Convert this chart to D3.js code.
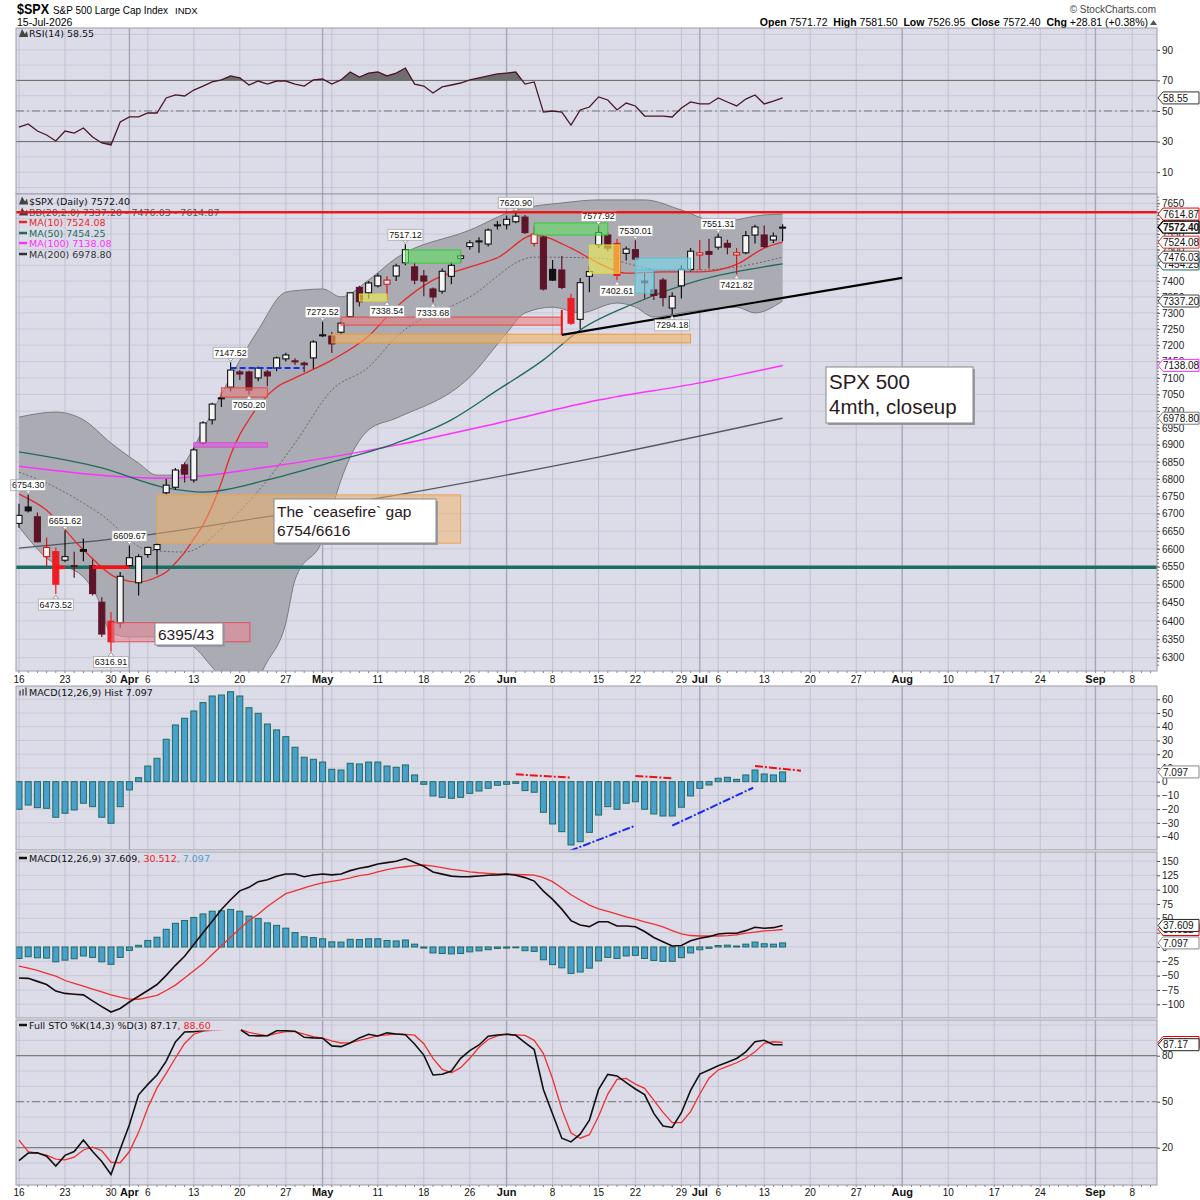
<!DOCTYPE html>
<html>
<head>
<meta charset="utf-8">
<script src="https://cdn.jsdelivr.net/npm/d3@7"></script>
<style>
  body { margin: 0; background: #fff; }
  svg { display: block; }
</style>
</head>
<body>
<svg id="chart" width="1200" height="1200"></svg>
<script>
// ---------- data ----------
const holidays = ["2026-04-03", "2026-05-25", "2026-06-19", "2026-07-03", "2026-09-07"];

const opens = [6672,6719,6691,6578,6592,6568,6553,6598,6553,6451,
  6399,6394,6553,6505,6584,6598,6760,6776,6841,6797,
  6905,6974,7038,7072,7118,7118,7100,7118,7130,7158,
  7152,7145,7161,7230,7228,7240,7288,7380,7363,7385,
  7390,7416,7458,7445,7416,7375,7368,7415,7472,7510,
  7528,7518,7578,7580,7590,7605,7520,7540,7437,7435,
  7345,7280,7415,7515,7547,7520,7488,7500,7400,7372,
  7403,7315,7385,7437,7483,7494,7508,7520,7483,7490,
  7547,7547,7531,7571.72];
const highs = [6728,6754.30,6703,6632,6604,6651.62,6592,6629,6570,6465,
  6424,6535,6609.67,6585,6606,6616,6800,6832,6848,6893,
  6970,7025,7056,7147.52,7124,7122,7135,7124,7165,7177,
  7160,7150,7215,7272.52,7241,7272,7365,7385,7400,7425,
  7415,7455,7517.12,7460,7435,7380,7440,7460,7485,7530,
  7540,7568,7592,7610,7620.90,7612,7575,7545,7467,7480,
  7360,7410,7448,7577.92,7555,7535,7510,7530.01,7425,7430,
  7410,7365,7450,7505,7531,7535,7551.31,7532,7505,7560,
  7580,7578,7555,7581.50];
const lows = [6660,6703,6618,6550,6473.52,6562,6519,6565,6470,6356,
  6316.91,6380,6548,6470,6575,6528,6754,6768,6790,6790,
  6900,6960,7012,7060,7094,7050.20,7090,7075,7120,7150,
  7140,7118,7128,7225,7176,7232,7285,7320,7345,7380,
  7338.54,7400,7450,7390,7352,7333.68,7360,7390,7460,7500,
  7490,7510,7565,7565,7585,7550,7510,7370,7400,7375,
  7262,7250,7365,7505,7495,7402.61,7465,7465,7345,7340,
  7320,7294.18,7345,7430,7435,7440,7500,7485,7421.82,7485,
  7520,7505,7521,7526.95];
const closes = [6695,6708,6620,6604,6501,6578,6550,6593,6475,6364,
  6343,6523,6575,6578,6604,6612,6782,6826,6814,6885,
  6965,7021,7040,7124,7112,7063,7130,7106,7161,7170,
  7150,7140,7210,7232,7204,7268,7363,7335,7394,7416,
  7403,7448,7500,7403,7400,7350,7431,7450,7480,7522,
  7525,7563,7580,7598,7608,7555,7550,7375,7403,7380,
  7268,7395,7430,7555,7505,7418,7502,7470,7395,7355,
  7348,7352,7437,7495,7490,7485,7540,7508,7490,7545,
  7573,7510,7543.59,7572.40];
// candles the author painted bright red
const redCandles = [4, 10, 60, 65];

// overlays as [bar index, value] knots
const ma10 = [[0,6756],[3,6710],[7,6597],[11,6515],[13,6507],[15,6521],[16,6535],[17,6560],[18,6590],[19,6628],
  [20,6668],[21,6722],[22,6790],[23,6870],[24,6930],[25,6975],[26,7015],[28,7072],[30,7100],[34,7154],[38,7228],
  [41,7318],[45,7403],[49,7445],[52,7474],[56,7547],[60,7505],[63,7457],[66,7425],[70,7429],[74,7429],[78,7453],
  [81,7505],[83,7524.08]];
const bbMid = [[0,6820],[3,6788],[9,6696],[14,6597],[18,6591],[23,6682],[27,6797],[30,6905],[34,7063],[38,7133],
  [41,7225],[49,7350],[56,7476],[63,7473],[70,7435],[74,7435],[78,7445],[83,7476.03]];
const bbUp = [[0,6982],[4,6997],[7,6974],[10,6905],[13,6846],[15,6811],[17,6811],[18,6846],[20,6944],[23,7103],
  [26,7247],[29,7365],[31,7372],[33,7375],[35,7350],[38,7403],[41,7473],[49,7563],[54,7628],[59,7651],[63,7661],
  [68,7661],[72,7628],[76,7589],[81,7612],[83,7614.87]];
const bbLow = [[0,6662],[3,6574],[7,6521],[8.5,6465],[10,6367],[12,6356],[16,6356],[19,6329],[21,6275],[23,6225],
  [25,6220],[27,6290],[29,6394],[30,6513],[33,6625],[35,6797],[36,6864],[38,6944],[41,6979],[49,7103],[53,7237],
  [55,7300],[58,7318],[61,7300],[65,7331],[67,7318],[69,7287],[72,7300],[78,7318],[80,7300],[83,7337.20]];
const ma50 = [[0,6879],[9,6832],[16,6774],[20,6762],[27,6797],[34,6849],[41,6905],[47,6974],[52,7063],[57,7155],
  [61,7247],[67,7331],[74,7403],[83,7454.25]];
const ma100 = [[0,6837],[16,6802],[27,6835],[41,6899],[52,6964],[63,7033],[74,7085],[83,7138.08]];
const ma200 = [[0,6602],[12,6633],[28,6696],[41,6753],[63,6864],[83,6978.80]];

const rsi = [39.5,41.5,36.9,34.3,30.4,36.9,35.6,38.9,33.0,29.1,
  27.8,42.8,46.1,46.1,48.7,48.7,58.5,60.5,59.8,63.7,
  66.3,69.0,70.3,72.9,71.6,67.0,69.6,67.6,69.6,69.6,
  67.6,66.3,70.3,70.9,67.6,70.3,75.5,72.2,74.8,75.5,
  72.9,74.8,78.1,67.6,66.3,61.8,65.7,67.0,68.3,70.3,
  71.6,72.9,74.2,74.8,75.5,67.6,69.0,49.3,50.0,49.3,
  40.8,50.7,52.6,59.2,57.2,50.7,55.2,53.3,46.7,46.7,
  46.7,46.1,52.0,55.9,54.6,54.6,58.5,55.9,53.3,57.8,
  60.5,54.6,56.5,58.55];
const hist = [-20.1,-17.0,-18.9,-19.4,-25.9,-23.0,-20.6,-15.7,-18.2,-25.9,
  -30.3,-18.2,-6.0,2.9,11.4,17.0,30.9,41.3,46.2,51.5,
  57.6,62.4,63.1,65.5,62.4,53.9,49.8,42.0,37.7,32.8,
  25.1,17.8,16.3,14.3,9.0,8.5,13.4,12.9,14.3,14.3,
  11.4,10.5,12.2,4.9,-1.9,-10.4,-11.4,-12.1,-11.4,-8.5,
  -6.8,-4.8,-2.6,-1.9,-1.2,-6.5,-7.7,-22.3,-30.8,-36.4,
  -46.1,-43.7,-36.9,-24.3,-18.2,-20.1,-15.7,-14.6,-20.1,-23.5,
  -25.0,-25.0,-18.6,-10.4,-4.8,-2.4,2.5,3.2,1.7,4.9,
  8.5,5.6,4.9,7.097];
const macd = [-54,-54.7,-60,-65.5,-77,-81,-82.4,-83.6,-94,-104,
  -113.5,-107.3,-96,-86,-76,-65.5,-49.5,-32,-16.3,4.2,
  25,45,65.3,82.4,97.9,104.1,114,117.2,123.5,127.3,
  127.2,122.6,125.6,127.3,125.8,127.3,133.2,137.4,140.2,144.7,
  147.1,149.5,154.2,147.5,140.7,130.9,127.1,123.6,122.6,122.7,
  123.9,125.1,125.8,127.1,125,121,115,97.5,83,66,
  46,38.2,35.5,44,44,36.6,36.6,35.3,27,16.5,
  9.2,1.7,2.5,10.7,15.2,18,22.7,23.9,23.9,28.5,
  34.3,32.6,33.7,37.609];
const signal = [-33.5,-37,-41,-46,-51,-58.5,-63.5,-68.5,-73.5,-78.5,
  -83.5,-87.5,-91,-91.2,-88,-84.5,-76,-66.5,-54,-41.5,
  -29,-13,2,17,32,46,57,70.5,82,93,
  98,103,108,112,114.5,117,120.5,124.5,126.5,131,
  135,138,140,142,143,141,138.5,135.5,133.5,131,
  129.5,128.5,127.5,127,126.5,126,125.5,121,114,103,
  91,82,73,66.5,62,57.5,52.5,48.5,44,40,
  35,28.5,23,20,19.2,19.2,19.2,19.8,21,24,
  26,28,29,30.512];
const stoK = [11.5,16.5,16.7,14.5,8,15,17.5,25,17.5,11,
  2.5,19,35,54.5,61.3,67.4,76.5,89,95.5,95.7,
  96.5,97.5,98,98.5,97.2,93.2,92.9,93,96.3,96.3,
  96,92,91.6,91.4,86.4,85.9,88.3,91.6,94,92.9,
  94.9,94.2,93.7,87.6,80.4,67.4,67.9,70,78.3,83.3,
  87,92.7,93.5,94,93.3,88.5,84,58,42,26.2,
  23.8,28.8,38,58,67.8,66.8,62.4,58.3,54.6,42.4,
  34.2,33.2,42.8,57.4,68,70.7,73.5,75.7,78.2,82.5,
  89.1,90.1,87.1,87.17];
const stoD = [25,17.5,16.5,15.2,12.6,12.1,13.8,18.5,20.3,18,
  10.5,10.2,17.5,30,46,59,68.5,78.5,88,94,
  96,96.5,97,97.5,97.2,95.2,94,93,94.5,95.7,
  95.7,94,92.5,91.4,89.7,88.3,88.5,90,91.5,92.9,
  93.6,94.2,93.9,93.4,87.8,78.3,71.1,68.9,72.2,78.3,
  85.5,90.6,92.9,94,93.6,93.2,90,81.4,65,45,
  29.6,26.2,28.5,40.5,55,64.6,65.2,61.5,58.7,51,
  43,36.3,36.3,43.5,55,65.3,70.7,73,75.4,78.3,
  82.6,88.1,89.1,88.6];

// high / low callouts: [bar, value, 1 = above]
const hiLo = [[1,6754.30,1],[5,6651.62,1],[4,6473.52,0],[12,6609.67,1],[10,6316.91,0],
  [23,7147.52,1],[25,7050.20,0],[33,7272.52,1],[40,7338.54,0],[45,7333.68,0],
  [42,7517.12,1],[54,7620.90,1],[63,7577.92,1],[67,7530.01,1],[65,7402.61,0],
  [71,7294.18,0],[76,7551.31,1],[78,7421.82,0]];

// drawn zones: [kind, from bar, to bar, top value, bottom value]
const zones = [["gap",15,48,6754,6616],["pink",10.1,25.1,6395,6343],["red",22,27,7070,7042],
  ["yellow",37,40,7359,7337],["red",35,59,7287,7262],["orange",34,73,7234,7207],
  ["green",42,48,7499,7457],["green",56,64,7586,7547],["yellow",62,65.3,7515,7425],
  ["cyan",67,73,7473,7435],["cyan",67,69,7435,7362],["magenta",19,27,6906,6893]];
const levels = [["teal",6548],["red",7621]];
const segments = [["redThick",4,6548,5,6548],["redThick",8,6548,12,6548],["blueDash",23,7130,31,7130],
  ["red",59,7309,59,7232],["black",59,7232,96,7410]];
const histMarks = [["red",54,5.4,60,2.9],["red",67,4.2,71,2.5],["red",80,11.4,85,8.0],
  ["blue",59.9,-50.3,67,-32],["blue",71,-32,79.8,-4.4]];

const xTicks = [["2026-03-16","16"],["2026-03-23","23"],["2026-03-30","30"],["2026-04-01","Apr",1],
  ["2026-04-06","6"],["2026-04-13","13"],["2026-04-20","20"],["2026-04-27","27"],["2026-05-01","May",1],
  ["2026-05-11","11"],["2026-05-18","18"],["2026-05-26","26"],["2026-06-01","Jun",1],["2026-06-08","8"],
  ["2026-06-15","15"],["2026-06-22","22"],["2026-06-29","29"],["2026-07-01","Jul",1],["2026-07-06","6"],
  ["2026-07-13","13"],["2026-07-20","20"],["2026-07-27","27"],["2026-08-03","Aug",1],["2026-08-10","10"],
  ["2026-08-17","17"],["2026-08-24","24"],["2026-09-01","Sep",1],["2026-09-08","8"]];

// ---------- setup ----------
const svg = d3.select("#chart");
const L = 16, R = 1157;
const BG = "#dcdce8", GRID = "#c8c8d8", VGRID = "#c0c0d0", MGRID = "#a8a8bc";
const LEG = "'DejaVu Sans', Verdana, sans-serif";
const AX = "'Liberation Sans', Arial, sans-serif";

const days = [];
for (let d = new Date(Date.UTC(2026, 2, 16)); d <= new Date(Date.UTC(2026, 8, 14)); d.setUTCDate(d.getUTCDate() + 1)) {
  const iso = d.toISOString().slice(0, 10);
  const wd = d.getUTCDay();
  if (wd === 0 || wd === 6 || holidays.includes(iso)) continue;
  days.push(iso);
}
const x = d3.scaleLinear().domain([0, 83]).range([19, 782.6]);

const vGrid = [];
days.forEach((iso, k) => {
  const dt = new Date(iso + "T00:00:00Z");
  const prev = k ? new Date(days[k - 1] + "T00:00:00Z") : null;
  const month = !!prev && dt.getUTCMonth() !== prev.getUTCMonth();
  const week = !prev || dt.getUTCDay() < prev.getUTCDay();
  if ((month || week) && x(k) < R) vGrid.push({ k, month });
});

const yR = d3.scaleLinear().domain([10, 90]).range([172.2, 49.8]);
const yP = d3.scaleLog().domain([6300, 7650]).range([657.7, 203.3]);
const yH = d3.scaleLinear().domain([-40, 60]).range([836.6, 699.3]);
const yM = d3.scaleLinear().domain([-100, 150]).range([1004.3, 861.0]);
const yS = d3.scaleLinear().domain([20, 80]).range([1147.7, 1055.7]);

const defs = svg.append("defs");
svg.append("rect").attr("width", 1200).attr("height", 1200).attr("fill", "#fff");

function makePanel(id, top, bottom, y, gridVals) {
  defs.append("clipPath").attr("id", id).append("rect")
    .attr("x", L).attr("y", top).attr("width", R - L).attr("height", bottom - top);
  svg.append("rect").attr("x", L).attr("y", top).attr("width", R - L).attr("height", bottom - top).attr("fill", BG);
  const g = svg.append("g").attr("clip-path", `url(#${id})`);
  g.selectAll("line.h").data(gridVals).join("line")
    .attr("x1", L).attr("x2", R).attr("y1", d => y(d)).attr("y2", d => y(d))
    .attr("stroke", GRID).attr("stroke-width", 1);
  g.selectAll("line.v").data(vGrid).join("line")
    .attr("x1", d => x(d.k)).attr("x2", d => x(d.k)).attr("y1", top).attr("y2", bottom)
    .attr("stroke", d => d.month ? MGRID : VGRID).attr("stroke-width", d => d.month ? 1.5 : 1);
  return { g, top, bottom, y };
}
function border(p) {
  svg.append("rect").attr("x", L).attr("y", p.top).attr("width", R - L).attr("height", p.bottom - p.top)
    .attr("fill", "none").attr("stroke", "#9c9ca8").attr("stroke-width", 1);
}
function rightAxis(p, vals, fmt, minor) {
  const ax = svg.append("g").attr("transform", `translate(${R},0)`)
    .call(d3.axisRight(p.y).tickValues(vals).tickSize(3).tickPadding(2).tickFormat(fmt || d3.format("d")));
  ax.select(".domain").remove();
  ax.selectAll("text").attr("font-family", AX).attr("font-size", 10).attr("fill", "#222");
  ax.selectAll("line").attr("stroke", "#555");
  if (minor) {
    svg.append("g").selectAll("line").data(minor).join("line")
      .attr("x1", R).attr("x2", R + 2).attr("y1", d => p.y(d)).attr("y2", d => p.y(d)).attr("stroke", "#777");
  }
}
function tag(yPos, text, color, bold) {
  const g = svg.append("g");
  g.append("path")
    .attr("d", `M${R + 1},${yPos} L${R + 6},${yPos - 6} L${R + 42},${yPos - 6} L${R + 42},${yPos + 6} L${R + 6},${yPos + 6} Z`)
    .attr("fill", "#fff").attr("stroke", color).attr("stroke-width", bold ? 1.4 : 1);
  g.append("text").attr("x", R + 6).attr("y", yPos + 3.6).text(text)
    .attr("font-family", AX).attr("font-size", 10).attr("font-weight", bold ? "bold" : null).attr("fill", "#111");
}
function legend(items, xPos, yPos, icon, iconColor, bgWidth) {
  if (bgWidth) svg.append("rect").attr("x", L + 1).attr("y", yPos - 9).attr("width", bgWidth).attr("height", 11).attr("fill", BG);
  if (icon === "dash") {
    svg.append("line").attr("x1", xPos - 10).attr("x2", xPos - 2).attr("y1", yPos - 3.5).attr("y2", yPos - 3.5)
      .attr("stroke", iconColor).attr("stroke-width", 2.5);
  } else if (icon === "bars") {
    [0, 1, 2].forEach(j => svg.append("rect").attr("x", xPos - 10 + j * 3).attr("y", yPos - 8 + (2 - j) * 1.5)
      .attr("width", 2).attr("height", 8 - (2 - j) * 1.5).attr("fill", "#777"));
  } else if (icon === "mtn") {
    svg.append("path").attr("d", `M${xPos - 10},${yPos} L${xPos - 7},${yPos - 8} L${xPos - 4},${yPos - 3} L${xPos - 2},${yPos - 6} L${xPos - 1},${yPos} Z`)
      .attr("fill", "#444");
  }
  const t = svg.append("text").attr("x", xPos).attr("y", yPos).attr("font-family", LEG).attr("font-size", 9.5);
  items.forEach(([s, c]) => t.append("tspan").attr("fill", c).text(s));
}
const line = (y) => d3.line().x((d, i) => x(i)).y(d => y(d));

// ---------- header ----------
svg.append("text").attr("x", 17).attr("y", 14).attr("font-family", AX).attr("font-size", 14).attr("font-weight", "bold")
  .attr("textLength", 32).attr("lengthAdjust", "spacingAndGlyphs").text("$SPX");
svg.append("text").attr("x", 53).attr("y", 14).attr("font-family", AX).attr("font-size", 10.5)
  .attr("textLength", 115).attr("lengthAdjust", "spacingAndGlyphs").text("S&P 500 Large Cap Index");
svg.append("text").attr("x", 175).attr("y", 14).attr("font-family", AX).attr("font-size", 9.5).text("INDX");
svg.append("text").attr("x", 17).attr("y", 26).attr("font-family", AX).attr("font-size", 10.5).text("15-Jul-2026");
svg.append("text").attr("x", 1156).attr("y", 13).attr("text-anchor", "end").attr("font-family", AX).attr("font-size", 10)
  .attr("fill", "#444").text("\u00a9 StockCharts.com");
{
  const t = svg.append("text").attr("x", 1148).attr("y", 26).attr("text-anchor", "end").attr("font-family", AX).attr("font-size", 10.5);
  [["Open ", 1], ["7571.72  ", 0], ["High ", 1], ["7581.50  ", 0], ["Low ", 1], ["7526.95  ", 0],
   ["Close ", 1], ["7572.40  ", 0], ["Chg ", 1], ["+28.81 (+0.38%)", 0]]
    .forEach(([s, b]) => t.append("tspan").attr("font-weight", b ? "bold" : null).attr("xml:space", "preserve").text(s));
  svg.append("path").attr("d", "M1150,25 L1153.5,20 L1157,25 Z").attr("fill", "#555");
}

// ---------- RSI panel ----------
const pR = makePanel("cR", 28, 194, yR, d3.range(0, 101, 10));
{
  const g = pR.g;
  defs.append("clipPath").attr("id", "rsiHi").append("rect").attr("x", L).attr("y", 28).attr("width", R - L).attr("height", yR(70) - 28);
  defs.append("clipPath").attr("id", "rsiLo").append("rect").attr("x", L).attr("y", yR(30)).attr("width", R - L).attr("height", 194 - yR(30));
  g.append("path").datum(rsi).attr("clip-path", "url(#rsiHi)").attr("fill", "#6e6e6e")
    .attr("d", d3.area().x((d, i) => x(i)).y0(yR(70)).y1(d => yR(d)));
  g.append("path").datum(rsi).attr("clip-path", "url(#rsiLo)").attr("fill", "#6e6e6e")
    .attr("d", d3.area().x((d, i) => x(i)).y0(yR(30)).y1(d => yR(d)));
  [70, 30].forEach(v => g.append("line").attr("x1", L).attr("x2", R).attr("y1", yR(v)).attr("y2", yR(v)).attr("stroke", "#6a6a6a"));
  g.append("line").attr("x1", L).attr("x2", R).attr("y1", yR(50)).attr("y2", yR(50)).attr("stroke", "#777").attr("stroke-dasharray", "8,3,2,3");
  g.append("path").datum(rsi).attr("fill", "none").attr("stroke", "#4a1526").attr("stroke-width", 1.3).attr("d", line(yR));
}
border(pR);
legend([["RSI(14) 58.55", "#111"]], 29, 37, "mtn");
rightAxis(pR, [90, 70, 50, 30, 10]);
tag(yR(58.55), "58.55", "#333");

// ---------- price panel ----------
const pP = makePanel("cP", 194, 671, yP, d3.range(6250, 7701, 50));
{
  const g = pP.g;
  const kn = d3.line().x(d => x(d[0])).y(d => yP(d[1])).curve(d3.curveMonotoneX);
  // Bollinger band
  g.append("path").attr("fill", "#ababb3")
    .attr("d", kn(bbUp) + "L" + kn(bbLow.slice().reverse()).slice(1) + "Z");
  g.append("path").datum(bbUp).attr("fill", "none").attr("stroke", "#7a7a80").attr("d", kn);
  g.append("path").datum(bbLow).attr("fill", "none").attr("stroke", "#7a7a80").attr("d", kn);
  g.append("path").datum(bbMid).attr("fill", "none").attr("stroke", "#666").attr("stroke-dasharray", "2,2").attr("d", kn);
  g.append("path").datum(ma200).attr("fill", "none").attr("stroke", "#555560").attr("stroke-width", 1.3).attr("d", kn);
  g.append("path").datum(ma100).attr("fill", "none").attr("stroke", "#ff30ff").attr("stroke-width", 1.5).attr("d", kn);
  g.append("path").datum(ma50).attr("fill", "none").attr("stroke", "#1f6b5a").attr("stroke-width", 1.3).attr("d", kn);
  g.append("path").datum(ma10).attr("fill", "none").attr("stroke", "#e82828").attr("stroke-width", 1.3).attr("d", kn);

  // level lines
  const lvStyle = { teal: ["#1b6e62", 3.5], red: ["#ee1111", 2] };
  g.selectAll("line.lv").data(levels).join("line")
    .attr("x1", L).attr("x2", R).attr("y1", d => yP(d[1])).attr("y2", d => yP(d[1]))
    .attr("stroke", d => lvStyle[d[0]][0]).attr("stroke-width", d => lvStyle[d[0]][1]);

  const zStyle = {
    gap: ["#f2b264", 0.5, "#e8a456"], pink: ["#e88a96", 0.6, "#e0505e"], red: ["#f07a7a", 0.55, "#e04848"],
    yellow: ["#f4f050", 0.6, "#e0dc40"], orange: ["#f2b060", 0.6, "#e89a40"], green: ["#60e060", 0.6, "#3cc83c"],
    cyan: ["#7ad8ea", 0.6, "#58c4d8"], magenta: ["#e060e0", 0.7, "#d050d0"]
  };
  // candles
  const bars = closes.map((c, i) => ({ i, o: opens[i], h: highs[i], l: lows[i], c, p: i ? closes[i - 1] : opens[i] }));
  const col = d => d.c >= d.p ? "#111" : (redCandles.includes(d.i) ? "#ee1c24" : (d.c < d.o ? "#5e1428" : "#d01818"));
  const cg = g.append("g").selectAll("g").data(bars).join("g");
  cg.append("line").attr("x1", d => x(d.i)).attr("x2", d => x(d.i)).attr("y1", d => yP(d.h)).attr("y2", d => yP(d.l))
    .attr("stroke", col).attr("stroke-width", 1.2);
  cg.append("rect").attr("x", d => x(d.i) - 3).attr("width", 6)
    .attr("y", d => yP(Math.max(d.o, d.c))).attr("height", d => Math.max(1, Math.abs(yP(d.o) - yP(d.c))))
    .attr("fill", d => d.c > d.o ? "#f4f4f4" : col(d)).attr("stroke", col).attr("stroke-width", 1.1);

  g.selectAll("rect.z").data(zones).join("rect")
    .attr("x", d => x(d[1])).attr("width", d => x(d[2]) - x(d[1]))
    .attr("y", d => yP(d[3])).attr("height", d => yP(d[4]) - yP(d[3]))
    .attr("fill", d => zStyle[d[0]][0]).attr("fill-opacity", d => zStyle[d[0]][1])
    .attr("stroke", d => zStyle[d[0]][2]).attr("stroke-width", 1);

  const sStyle = { redThick: ["#ff1010", 3.5, null], blueDash: ["#1030ee", 2, "6,3"], red: ["#ee1111", 2, null], black: ["#000", 2.2, null] };
  g.selectAll("line.s").data(segments).join("line")
    .attr("x1", d => x(d[1])).attr("y1", d => yP(d[2])).attr("x2", d => x(d[3])).attr("y2", d => yP(d[4]))
    .attr("stroke", d => sStyle[d[0]][0]).attr("stroke-width", d => sStyle[d[0]][1]).attr("stroke-dasharray", d => sStyle[d[0]][2]);
}
// high / low callouts
{
  const cg = svg.append("g").selectAll("g").data(hiLo).join("g");
  cg.each(function (d) {
    const g = d3.select(this);
    const cx = x(d[0]), yv = yP(d[1]);
    const txt = d3.format(".2f")(d[1]);
    const w = 35, h = 11;
    const top = d[2] ? yv - 4 - h : yv + 5;
    g.append("path").attr("d", d[2]
      ? `M${cx - 3},${top + h} L${cx},${yv - 1} L${cx + 3},${top + h} Z`
      : `M${cx - 3},${top} L${cx},${yv + 1} L${cx + 3},${top} Z`).attr("fill", "#fff").attr("stroke", "#999");
    g.append("rect").attr("x", cx - w / 2).attr("y", top).attr("width", w).attr("height", h)
      .attr("fill", "#fff").attr("stroke", "#aaa").attr("stroke-width", 0.8);
    g.append("text").attr("x", cx).attr("y", top + 8.6).attr("text-anchor", "middle")
      .attr("font-family", AX).attr("font-size", 9).attr("fill", "#111").text(txt);
  });
}
// text notes
const notes = [
  { x: 826, y: 367, w: 147, h: 56, size: 20.5, lead: 22, step: 24.5, lines: ["SPX 500", "4mth, closeup"] },
  { x: 274, y: 499, w: 162, h: 44, size: 15.5, lead: 18, step: 18.5, lines: ["The `ceasefire` gap", "6754/6616"] },
  { x: 155, y: 623, w: 68, h: 22, size: 15.5, lead: 16.5, step: 0, lines: ["6395/43"] }
];
notes.forEach(n => {
  svg.append("rect").attr("x", n.x + 2).attr("y", n.y + 2).attr("width", n.w).attr("height", n.h).attr("fill", "#9a9aa6");
  svg.append("rect").attr("x", n.x).attr("y", n.y).attr("width", n.w).attr("height", n.h).attr("fill", "#fff").attr("stroke", "#888");
  n.lines.forEach((s, j) => svg.append("text").attr("x", n.x + 3).attr("y", n.y + n.lead + j * n.step)
    .attr("font-family", AX).attr("font-size", n.size).attr("fill", "#2a1a1e").text(s));
});
legend([["$SPX (Daily) 7572.40", "#111"]], 29, 204.5, "mtn", null, 0);
legend([["BB(20,2.0) 7337.20 - 7476.03 - 7614.87", "#555"]], 29, 215.5, "mtn");
legend([["MA(10) 7524.08", "#e82828"]], 29, 225.5, "dash", "#e82828");
legend([["MA(50) 7454.25", "#1f6b5a"]], 29, 236.5, "dash", "#1f6b5a");
legend([["MA(100) 7138.08", "#ff30ff"]], 29, 246.5, "dash", "#ff30ff");
legend([["MA(200) 6978.80", "#333"]], 29, 257.5, "dash", "#333");
// red resistance line passes over the legend
svg.append("line").attr("x1", L).attr("x2", R).attr("y1", yP(7621)).attr("y2", yP(7621)).attr("stroke", "#ee1111").attr("stroke-width", 2);
border(pP);
rightAxis(pP, d3.range(6300, 7651, 50), null, d3.range(6280, 7680, 10));
[[6978.80, "#777"], [7138.08, "#ff30ff"], [7337.20, "#444"], [7454.25, "#1f6b5a"], [7476.03, "#444"],
 [7524.08, "#e82828"], [7614.87, "#e00"], [7572.40, "#000", 1]]
  .forEach(([v, c, b]) => tag(yP(v), d3.format(".2f")(v), c, b));

// ---------- x label strips ----------
function xStrip(top, base) {
  svg.append("g").selectAll("line").data(days.map((d, k) => k).filter(k => x(k) < R)).join("line")
    .attr("x1", k => x(k)).attr("x2", k => x(k)).attr("y1", top).attr("y2", top + 2).attr("stroke", "#888");
  svg.append("g").selectAll("text").data(xTicks).join("text")
    .attr("x", d => x(days.indexOf(d[0]))).attr("y", base).attr("text-anchor", "middle")
    .attr("font-family", AX).attr("font-size", d => d[2] ? 11 : 10).attr("font-weight", d => d[2] ? "bold" : null)
    .attr("fill", "#111").text(d => d[1]);
}
xStrip(671, 683);

// ---------- MACD histogram panel ----------
const pH = makePanel("cH", 686, 850, yH, d3.range(-50, 71, 10));
{
  const g = pH.g;
  g.selectAll("rect.b").data(hist).join("rect")
    .attr("x", (d, i) => x(i) - 3).attr("width", 6)
    .attr("y", d => yH(Math.max(0, d))).attr("height", d => Math.abs(yH(d) - yH(0)))
    .attr("fill", "#4aa0cc").attr("stroke", "#1e6b60").attr("stroke-width", 1);
  const hs = { red: "#ee1111", blue: "#1a2aee" };
  g.selectAll("line.m").data(histMarks).join("line")
    .attr("x1", d => x(d[1])).attr("y1", d => yH(d[2])).attr("x2", d => x(d[3])).attr("y2", d => yH(d[4]))
    .attr("stroke", d => hs[d[0]]).attr("stroke-width", 2).attr("stroke-dasharray", "8,2,2,2");
}
border(pH);
legend([["MACD(12,26,9) Hist 7.097", "#111"]], 29, 695.5, "bars");
rightAxis(pH, [60, 50, 40, 30, 20, 10, 0, -10, -20, -30, -40]);
tag(yH(7.097), "7.097", "#888");

// ---------- MACD panel ----------
const pM = makePanel("cM", 852, 1018, yM, d3.range(-125, 176, 25));
{
  const g = pM.g;
  g.selectAll("rect.b").data(hist).join("rect")
    .attr("x", (d, i) => x(i) - 3).attr("width", 6)
    .attr("y", d => yM(Math.max(0, d))).attr("height", d => Math.max(0.8, Math.abs(yM(d) - yM(0))))
    .attr("fill", "#4aa0cc").attr("stroke", "#1e6b60").attr("stroke-width", 1);
  g.append("path").datum(signal).attr("fill", "none").attr("stroke", "#f03030").attr("stroke-width", 1.3).attr("d", line(yM));
  g.append("path").datum(macd).attr("fill", "none").attr("stroke", "#1a0a0e").attr("stroke-width", 1.6).attr("d", line(yM));
}
border(pM);
legend([["MACD(12,26,9) 37.609", "#111"], [", 30.512", "#ee2222"], [", 7.097", "#4aa0cc"]], 29, 861.5, "dash", "#111");
rightAxis(pM, [150, 125, 100, 75, 50, 25, 0, -25, -50, -75, -100]);
tag(yM(7.097), "7.097", "#888");
tag(yM(30.512), "30.512", "#e00");
tag(yM(37.609), "37.609", "#222");

// ---------- Full stochastics panel ----------
const pS = makePanel("cS", 1020, 1185, yS, d3.range(-10, 111, 10));
{
  const g = pS.g;
  [80, 20].forEach(v => g.append("line").attr("x1", L).attr("x2", R).attr("y1", yS(v)).attr("y2", yS(v)).attr("stroke", "#6a6a6a"));
  g.append("line").attr("x1", L).attr("x2", R).attr("y1", yS(50)).attr("y2", yS(50)).attr("stroke", "#777").attr("stroke-dasharray", "8,3,2,3");
  g.append("path").datum(stoD).attr("fill", "none").attr("stroke", "#f03030").attr("stroke-width", 1.3).attr("d", line(yS));
  g.append("path").datum(stoK).attr("fill", "none").attr("stroke", "#111").attr("stroke-width", 1.6).attr("d", line(yS));
}
legend([["Full STO %K(14,3) %D(3) 87.17", "#111"], [", 88.60", "#ee2222"]], 29, 1028.5, "dash", "#111", 224);
border(pS);
rightAxis(pS, [80, 50, 20]);
tag(yS(88.60), "88.60", "#e00");
tag(yS(87.17), "87.17", "#222");

xStrip(1185, 1196);
</script>
</body>
</html>
